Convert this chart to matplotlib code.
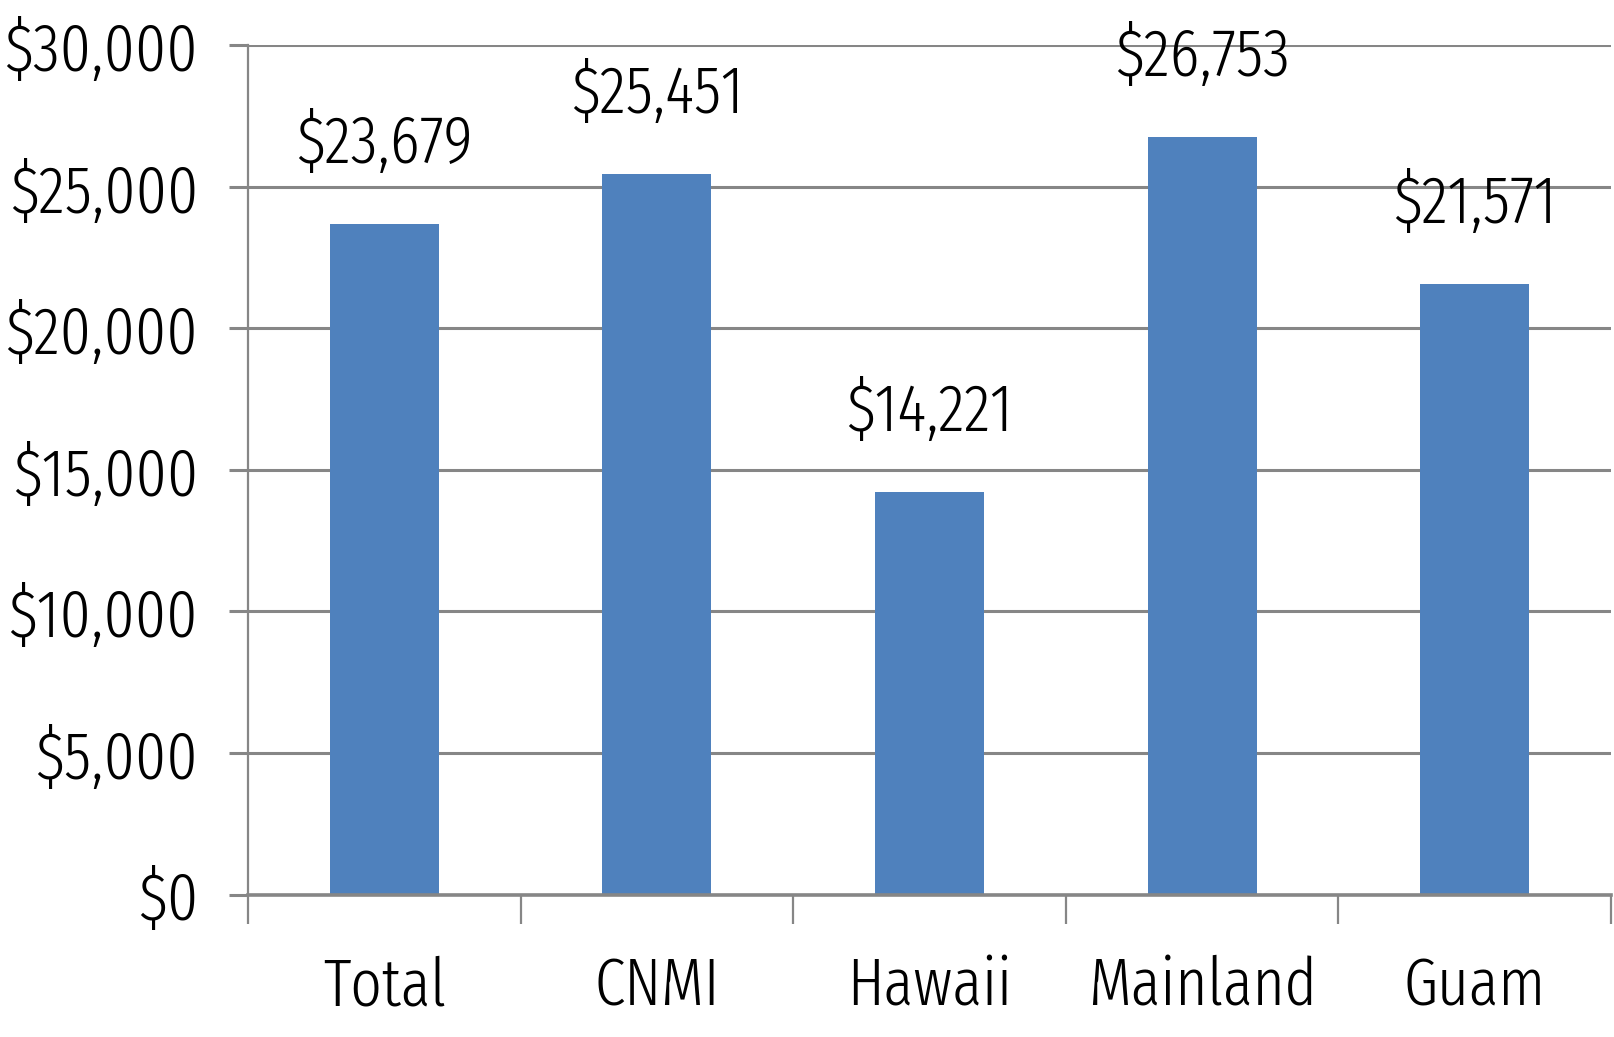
import matplotlib
matplotlib.use("Agg")
import matplotlib.pyplot as plt
from matplotlib.ticker import FuncFormatter, FixedLocator

plt.rcParams['font.family'] = ['Fira Sans Extra Condensed', 'DejaVu Sans']
plt.rcParams['font.stretch'] = 'condensed'
plt.rcParams['font.weight'] = 300

categories = ['Total', 'CNMI', 'Hawaii', 'Mainland', 'Guam']
values = [23679, 25451, 14221, 26753, 21571]
yticks = [0, 5000, 10000, 15000, 20000, 25000, 30000]

bar_color = '#4F81BD'
grid_color = '#868686'
font_size = 48

fig = plt.figure(figsize=(16.14, 10.37), dpi=100)
ax = fig.add_axes([0.1537, 0.1374, 0.8445, 0.8189])

x = list(range(len(categories)))
ax.bar(x, values, width=0.40, color=bar_color, zorder=3)

for xi, v in zip(x, values):
    ax.annotate('${:,}'.format(v), (xi, v), xytext=(0, 34), textcoords='offset points',
                ha='center', va='bottom', fontsize=font_size, color='black')

ax.set_xlim(-0.5, len(categories) - 0.5)
ax.set_ylim(0, 30000)
ax.set_yticks(yticks)
ax.yaxis.set_major_formatter(FuncFormatter(lambda v, p: '${:,.0f}'.format(v)))
ax.yaxis.grid(True, color=grid_color, linewidth=2.2, zorder=0)

ax.set_xticks(x)
ax.set_xticklabels(categories)
ax.xaxis.set_minor_locator(FixedLocator([i - 0.5 for i in range(len(categories) + 1)]))
ax.tick_params(axis='x', which='major', length=0, pad=44, labelsize=font_size)
ax.tick_params(axis='x', which='minor', length=21, width=1.6, color=grid_color, direction='out')
ax.tick_params(axis='y', which='major', length=14, width=2.2, color=grid_color, pad=22, labelsize=font_size)

for side in ['top', 'right']:
    ax.spines[side].set_visible(False)
ax.spines['left'].set_color(grid_color)
ax.spines['left'].set_linewidth(1.6)
ax.spines['bottom'].set_color(grid_color)
ax.spines['bottom'].set_linewidth(2.6)
ax.spines['bottom'].set_zorder(4)

fig.savefig('out.png', dpi=100)
